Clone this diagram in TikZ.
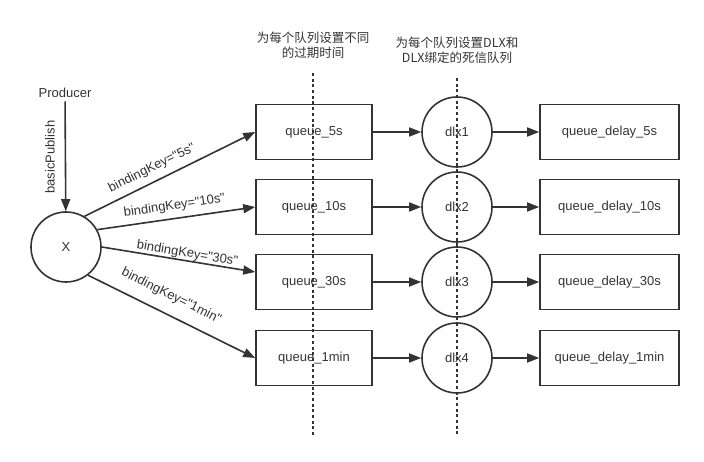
\documentclass[tikz,border=0pt]{standalone}
\usepackage{fontspec}
\setmainfont{Liberation Sans}[Ligatures=TeXOff]
\newfontfamily\cjk{Noto Sans CJK SC}
\usetikzlibrary{arrows.meta}
\definecolor{ink}{HTML}{333333}

\begin{document}
\begin{tikzpicture}[
	x=1pt, y=-1pt,
	every node/.style={font=\fontsize{13}{15}\selectfont, text=ink},
	box/.style={draw=ink, line width=1.6pt, minimum width=116pt, minimum height=55pt},
	wide box/.style={box, minimum width=139pt},
	hub/.style={draw=ink, line width=1.6pt, circle, minimum size=70pt, inner sep=0pt},
	link/.style={draw=ink, line width=1.6pt, -{Triangle[length=12pt,width=9pt]}},
	divider/.style={draw=ink, line width=2.2pt, dash pattern=on 3pt off 2.7pt},
	note/.style={align=center, font=\cjk\fontsize{12.5}{15}\selectfont}
	]
	\useasboundingbox (0,0) rectangle (704,462);
	
	% Exchange and producer
	\node (producer) at (65,93) {Producer};
	\node[hub] (x) at (66,247) {X};
	\node[rotate=90] (publish) at (50,157) {basicPublish};
	\draw[link] (producer) -- (x);
	
	% Queues, dead letter exchanges, delay queues
	\foreach \i/\t/\y in {1/5s/132, 2/10s/207, 3/30s/282, 4/1min/358}{
		\node[box] (q\i) at (314,\y) {queue\_\t};
		\node[hub] (d\i) at (457,\y) {dlx\i};
		\node[wide box] (qd\i) at (609.5,\y) {queue\_delay\_\t};
		\draw[link] (q\i) -- (d\i);
		\draw[link] (d\i) -- (qd\i);
	}
	
	% Bindings
	\draw[link] (x.59) -- (q1.west) node[pos=0.43, sloped, above=3pt] {bindingKey="5s"};
	\draw[link] (x.29) -- (q2.west) node[pos=0.5, sloped, above=2pt] {bindingKey="10s"};
	\draw[link] (x.0) -- ([yshift=10pt]q3.west) node[pos=0.55, sloped, above=-3pt] {bindingKey="30s"};
	\draw[link] (x.-52) -- (q4.west) node[pos=0.45, sloped, above=8pt] {bindingKey="1min"};
	
	% Notes and dividers
	\node[note] (note1) at (313,45.5) {为每个队列设置不同\\的过期时间};
	\node[note] (note2) at (457,50.5) {为每个队列设置DLX和\\DLX绑定的死信队列};
	\coordinate (cut1 top) at (313,73);
	\coordinate (cut1 bottom) at (313,435);
	\coordinate (cut2 top) at (457,78);
	\coordinate (cut2 bottom) at (457,435);
	\draw[divider] (cut1 top) -- (cut1 bottom);
	\draw[divider] (cut2 top) -- (cut2 bottom);
	
\end{tikzpicture}
\end{document}
